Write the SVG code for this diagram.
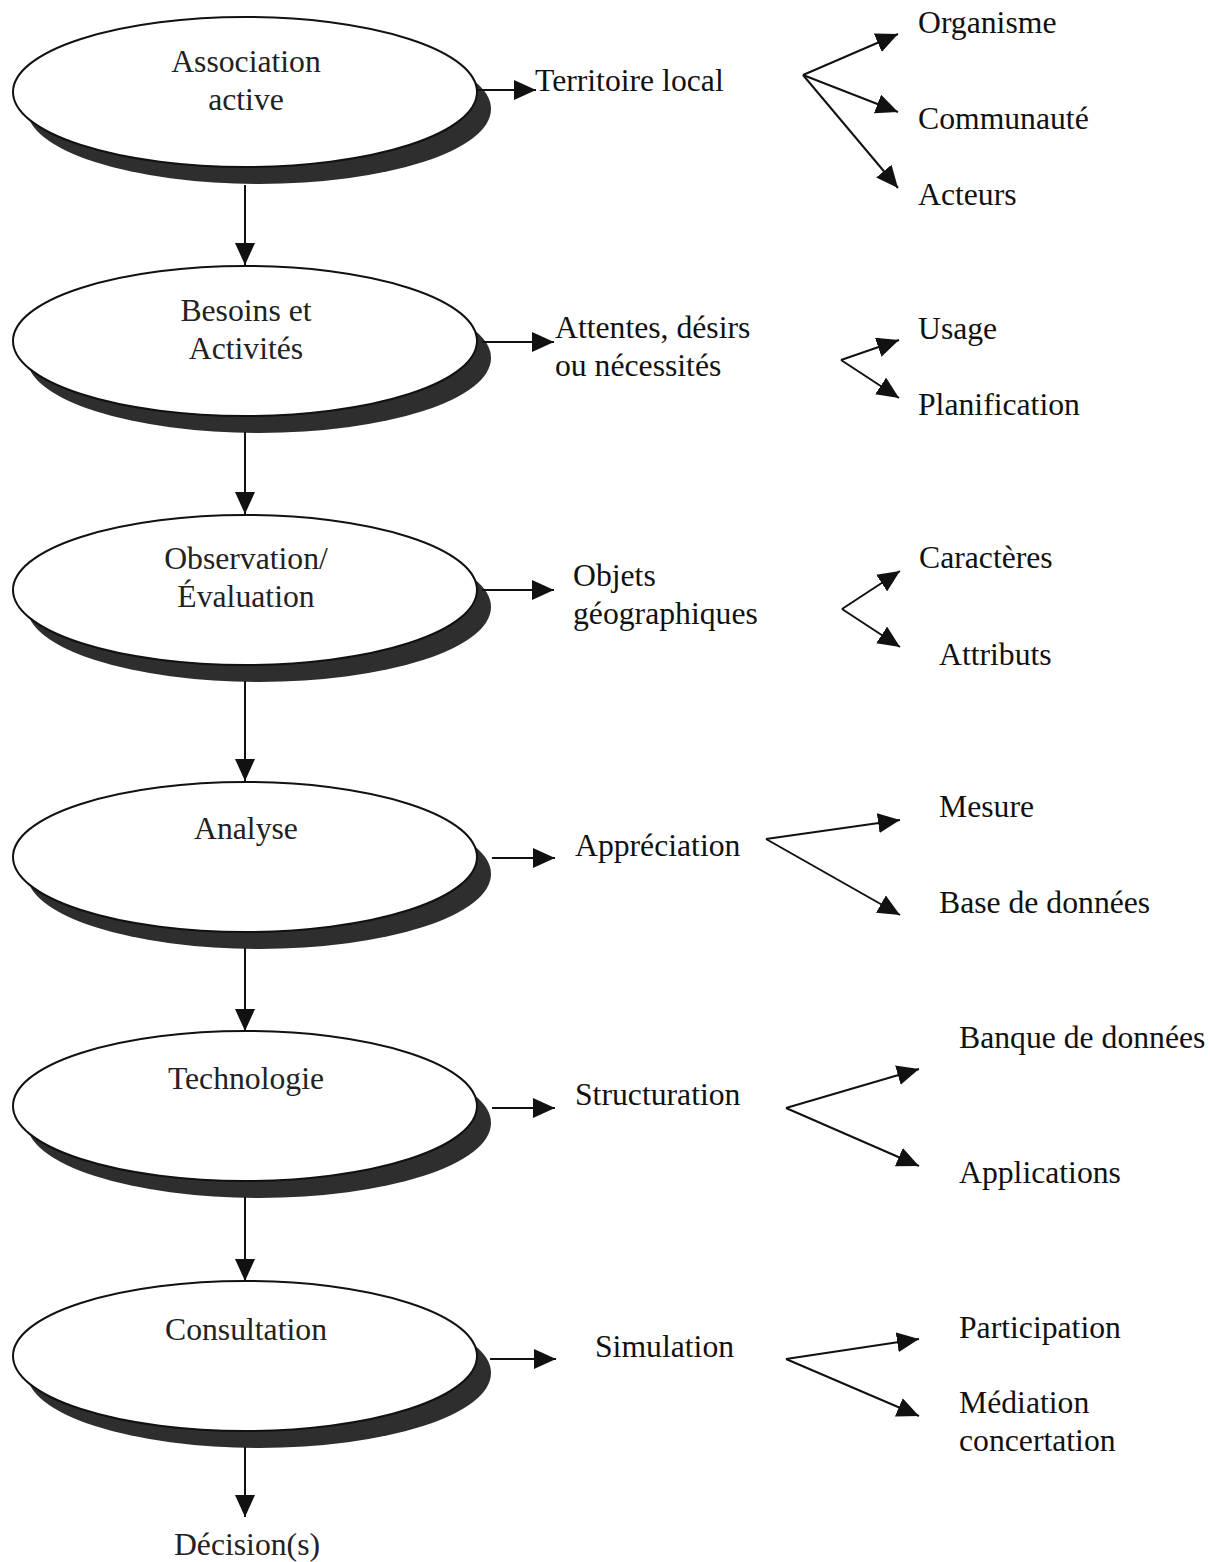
<svg xmlns="http://www.w3.org/2000/svg" width="1210" height="1562" viewBox="0 0 1210 1562">
  <style>
    text { font-family: "Liberation Serif", "Times New Roman", serif; font-size: 31.7px; fill: #111; }
    .lbl { text-anchor: middle; fill: #222; }
    .shadow { fill: #2e2e2e; }
    .body { fill: #fff; stroke: #111; stroke-width: 2; }
    .conn line { stroke: #111; stroke-width: 2; fill: none; marker-end: url(#head); }
  </style>
  <defs>
    <marker id="head" markerUnits="userSpaceOnUse" markerWidth="22" markerHeight="20" refX="22" refY="10" orient="auto">
      <path d="M0,0 L22,10 L0,20 z" fill="#111"/>
    </marker>
    <!-- stage ellipse with its dark drop shadow -->
    <g id="stage">
      <ellipse class="shadow" cx="14" cy="17" rx="232" ry="75"/>
      <ellipse class="body" cx="0" cy="0" rx="232" ry="75"/>
    </g>
  </defs>

  <rect width="1210" height="1562" fill="#fff"/>

  <!-- main stages -->
  <g id="n-association">
    <use href="#stage" x="245" y="92"/>
    <text class="lbl" x="246" y="72">Association</text>
    <text class="lbl" x="246" y="110">active</text>
  </g>
  <g id="n-besoins">
    <use href="#stage" x="245" y="341"/>
    <text class="lbl" x="246" y="321">Besoins et</text>
    <text class="lbl" x="246" y="359">Activités</text>
  </g>
  <g id="n-observation">
    <use href="#stage" x="245" y="590"/>
    <text class="lbl" x="246" y="569">Observation/</text>
    <text class="lbl" x="246" y="607">Évaluation</text>
  </g>
  <g id="n-analyse">
    <use href="#stage" x="245" y="857"/>
    <text class="lbl" x="246" y="839">Analyse</text>
  </g>
  <g id="n-technologie">
    <use href="#stage" x="245" y="1106"/>
    <text class="lbl" x="246" y="1089">Technologie</text>
  </g>
  <g id="n-consultation">
    <use href="#stage" x="245" y="1356"/>
    <text class="lbl" x="246" y="1340">Consultation</text>
  </g>

  <!-- outcome of the chain -->
  <g id="n-decision">
    <text class="lbl" x="247" y="1555">Décision(s)</text>
  </g>

  <!-- second-level labels -->
  <g id="n-territoire"><text x="535" y="91">Territoire local</text></g>
  <g id="n-attentes">
    <text x="555" y="338">Attentes, désirs</text>
    <text x="555" y="376">ou nécessités</text>
  </g>
  <g id="n-objets">
    <text x="573" y="586">Objets</text>
    <text x="573" y="624">géographiques</text>
  </g>
  <g id="n-appreciation"><text x="575" y="856">Appréciation</text></g>
  <g id="n-structuration"><text x="575" y="1105">Structuration</text></g>
  <g id="n-simulation"><text x="595" y="1357">Simulation</text></g>

  <!-- third-level labels -->
  <g id="n-organisme"><text x="918" y="33">Organisme</text></g>
  <g id="n-communaute"><text x="918" y="129">Communauté</text></g>
  <g id="n-acteurs"><text x="918" y="205">Acteurs</text></g>
  <g id="n-usage"><text x="918" y="339">Usage</text></g>
  <g id="n-planification"><text x="918" y="415">Planification</text></g>
  <g id="n-caracteres"><text x="919" y="568">Caractères</text></g>
  <g id="n-attributs"><text x="939" y="665">Attributs</text></g>
  <g id="n-mesure"><text x="939" y="817">Mesure</text></g>
  <g id="n-base"><text x="939" y="913">Base de données</text></g>
  <g id="n-banque"><text x="959" y="1048">Banque de données</text></g>
  <g id="n-applications"><text x="959" y="1183">Applications</text></g>
  <g id="n-participation"><text x="959" y="1338">Participation</text></g>
  <g id="n-mediation">
    <text x="959" y="1413">Médiation</text>
    <text x="959" y="1451">concertation</text>
  </g>

  <!-- connectors -->
  <g id="connectors" class="conn">
    <!-- vertical chain -->
    <line x1="245" y1="185" x2="245" y2="265"/>
    <line x1="245" y1="432" x2="245" y2="514"/>
    <line x1="245" y1="681" x2="245" y2="781"/>
    <line x1="245" y1="948" x2="245" y2="1031"/>
    <line x1="245" y1="1197" x2="245" y2="1281"/>
    <line x1="245" y1="1447" x2="245" y2="1517"/>

    <!-- stage to second level -->
    <line x1="478" y1="90" x2="536" y2="90"/>
    <line x1="482" y1="342" x2="554" y2="342"/>
    <line x1="482" y1="590" x2="554" y2="590"/>
    <line x1="492" y1="858" x2="555" y2="858"/>
    <line x1="492" y1="1108" x2="555" y2="1108"/>
    <line x1="490" y1="1359" x2="556" y2="1359"/>

    <!-- forks to third level -->
    <line x1="803" y1="75" x2="898" y2="34"/>
    <line x1="803" y1="75" x2="898" y2="112"/>
    <line x1="803" y1="75" x2="898" y2="188"/>

    <line x1="841" y1="360" x2="899" y2="340"/>
    <line x1="841" y1="360" x2="899" y2="398"/>

    <line x1="842" y1="609" x2="900" y2="571"/>
    <line x1="842" y1="609" x2="900" y2="647"/>

    <line x1="766" y1="839" x2="900" y2="820"/>
    <line x1="766" y1="839" x2="900" y2="915"/>

    <line x1="786" y1="1108" x2="919" y2="1069"/>
    <line x1="786" y1="1108" x2="919" y2="1166"/>

    <line x1="786" y1="1359" x2="919" y2="1339"/>
    <line x1="786" y1="1359" x2="919" y2="1416"/>
  </g>
</svg>
